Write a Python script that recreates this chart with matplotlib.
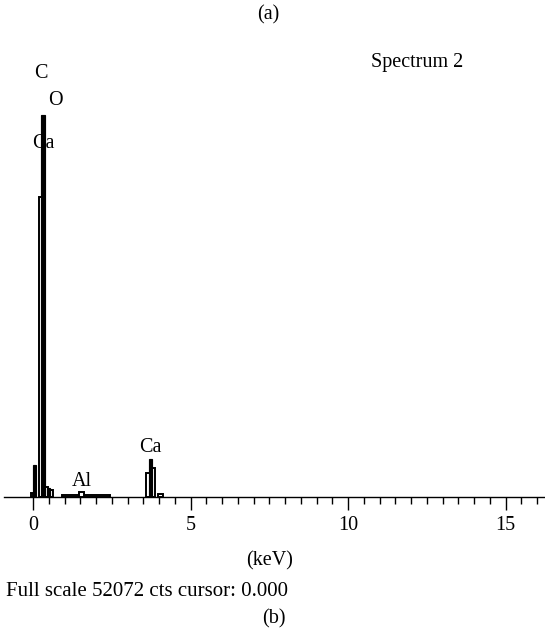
import matplotlib
matplotlib.use("Agg")
import matplotlib.pyplot as plt
import numpy as np

# Spectrum bins (keV) and counts
hollow_start = [-0.06, 0.19, 0.35, 0.48, 0.92, 1.46, 3.58, 3.76, 3.97]
hollow_end   = [0.00, 0.32, 0.48, 0.63, 2.44, 1.62, 3.70, 3.86, 4.13]
hollow_cts   = [480, 35750, 1190, 830, 180, 600, 2860, 3460, 360]

solid_start = [0.00, 0.25, 0.44, 3.68]
solid_end   = [0.10, 0.38, 0.54, 3.78]
solid_cts   = [3810, 45500, 1070, 4530]

element_labels = ["C", "O", "Ca", "Al", "Ca"]
element_x      = [0.25, 0.70, 0.32, 1.56, 3.71]
element_y      = [50520, 47300, 42180, 1790, 5840]

major_ticks = [0, 5, 10, 15]
full_scale = 52072

W, H = 545, 631
fig = plt.figure(figsize=(W / 100, H / 100), dpi=100)
plt.rcParams['font.family'] = ['Liberation Serif', 'DejaVu Serif']
FS = 14.5

x0px, x1px, basepx, toppx = 4, 545, 497, 60
ax = fig.add_axes([x0px / W, (H - basepx) / H, (x1px - x0px) / W, (basepx - toppx) / H])
ax.set_xlim((x0px - 33) / 31.5, (x1px - 33) / 31.5)
ax.set_ylim(0, full_scale)

lw = 1.4
ax.bar(hollow_start, np.array(hollow_cts), width=np.array(hollow_end) - np.array(hollow_start),
       align='edge', facecolor='white', edgecolor='black', linewidth=lw, zorder=2)
ax.bar(solid_start, np.array(solid_cts), width=np.array(solid_end) - np.array(solid_start),
       align='edge', facecolor='black', edgecolor='black', linewidth=lw * 0.6, zorder=3)

for lab, xx, yy in zip(element_labels, element_x, element_y):
    ax.text(xx, yy, lab, ha='center', va='center', fontsize=FS, zorder=5)

for s in ['left', 'right', 'top']:
    ax.spines[s].set_visible(False)
ax.spines['bottom'].set_linewidth(1.0)
ax.set_yticks([])
ax.set_xticks(major_ticks)
ax.set_xticks(np.arange(0, 16.01, 0.5), minor=True)
ax.tick_params(axis='x', which='major', length=9, width=1.0, labelsize=FS, pad=5, direction='out')
ax.tick_params(axis='x', which='minor', length=5, width=1.0, direction='out')

fig.text(417 / W, 1 - 63 / H, "Spectrum 2", ha='center', va='center', fontsize=FS)
fig.text(268 / W, 1 - 15 / H, "(a)", ha='center', va='center', fontsize=FS)
fig.text(270 / W, 1 - 561 / H, "(keV)", ha='center', va='center', fontsize=FS)
fig.text(6 / W, 1 - 592 / H, "Full scale %d cts cursor: 0.000" % full_scale,
         ha='left', va='center', fontsize=15)
fig.text(274 / W, 1 - 619 / H, "(b)", ha='center', va='center', fontsize=FS)

fig.savefig("out.png", dpi=100)
